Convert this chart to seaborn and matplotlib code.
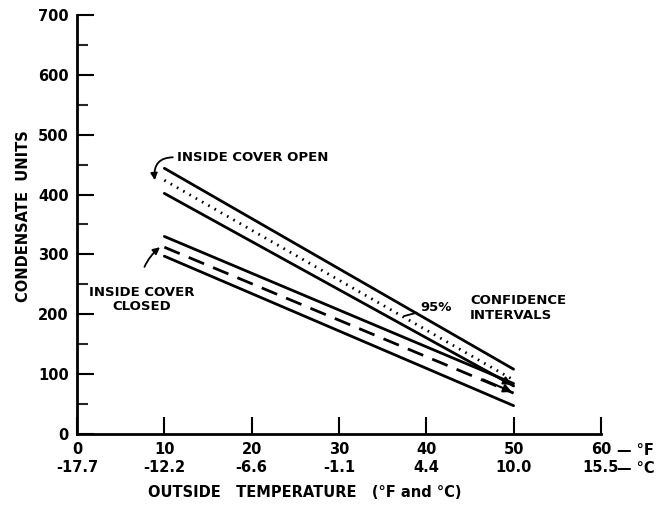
import matplotlib
matplotlib.use("Agg")
import matplotlib.pyplot as plt
import seaborn as sns

# outside temperature (deg F) at the two ends of each fitted line
temp_f = [10, 50]

# inside cover open: upper 95% limit, fit, lower 95% limit
open_upper = [444, 108]
open_fit = [424, 90]
open_lower = [402, 80]

# inside cover closed
closed_upper = [330, 84]
closed_fit = [312, 68]
closed_lower = [297, 47]

f_ticks = [0, 10, 20, 30, 40, 50, 60]
c_labels = ["-17.7", "-12.2", "-6.6", "-1.1", "4.4", "10.0", "15.5"]

sns.set_style("ticks")
plt.rcParams['font.family'] = ['DejaVu Sans']
plt.rcParams['font.weight'] = 'bold'
plt.rcParams['text.color'] = 'black'
plt.rcParams['axes.labelcolor'] = 'black'

fig = plt.figure(figsize=(6.64, 5.05), dpi=100)
ax = fig.add_axes([0.116, 0.141, 0.789, 0.829])

lw = 2.0
sns.lineplot(x=temp_f, y=open_upper, color="black", linewidth=lw, ax=ax)
sns.lineplot(x=temp_f, y=open_fit, color="black", linewidth=lw, ax=ax,
             linestyle=(0, (0.6, 2.0)))
sns.lineplot(x=temp_f, y=open_lower, color="black", linewidth=lw, ax=ax)
sns.lineplot(x=temp_f, y=closed_upper, color="black", linewidth=lw, ax=ax)
sns.lineplot(x=temp_f, y=closed_fit, color="black", linewidth=lw, ax=ax,
             linestyle=(0, (6, 3.5)))
sns.lineplot(x=temp_f, y=closed_lower, color="black", linewidth=lw, ax=ax)

ax.set_xlim(0, 60)
ax.set_ylim(0, 700)
sns.despine(ax=ax)
for s in ["left", "bottom"]:
    ax.spines[s].set_linewidth(2.0)
    ax.spines[s].set_color("black")

ax.set_yticks(range(0, 701, 100))
ax.set_yticks(range(50, 701, 100), minor=True)
ax.set_xticks(f_ticks)
ax.set_xticklabels([f"{f}\n{c}" for f, c in zip(f_ticks, c_labels)])
ax.tick_params(axis="both", direction="in", length=12, width=1.5,
               colors="black", labelsize=10.5, pad=6)
ax.tick_params(axis="y", which="minor", direction="in", length=8, width=1.5)
ax.tick_params(axis="x", pad=6)

ax.text(61.8, -0.023, "— °F\n— °C", transform=ax.get_xaxis_transform(),
        ha="left", va="top", fontsize=10.5, fontweight="bold",
        linespacing=1.2, clip_on=False)

ax.set_ylabel("CONDENSATE  UNITS", fontsize=10.5, fontweight="bold")
ax.yaxis.set_label_coords(-0.088, 0.52)
ax.set_xlabel("OUTSIDE   TEMPERATURE   (°F and °C)", fontsize=10.5,
              fontweight="bold")
ax.xaxis.set_label_coords(0.435, -0.122)

# annotations
ax.annotate("INSIDE COVER OPEN", xy=(8.9, 424), xytext=(11.5, 462),
            fontsize=9.5, fontweight="bold", va="center", ha="left",
            arrowprops=dict(arrowstyle="-|>", color="black", lw=1.3,
                            connectionstyle="arc3,rad=0.6",
                            relpos=(0, 0.5),
                            shrinkA=1, shrinkB=0, mutation_scale=10))
ax.annotate("INSIDE COVER\nCLOSED", xy=(9.5, 312), xytext=(7.4, 224),
            fontsize=9.5, fontweight="bold", va="center", ha="center",
            linespacing=1.1,
            arrowprops=dict(arrowstyle="-|>", color="black", lw=1.3,
                            connectionstyle="arc3,rad=-0.3",
                            shrinkA=12, shrinkB=0, mutation_scale=10))
ax.annotate("95%", xy=(37.5, 197), xytext=(39.3, 211),
            fontsize=9.5, fontweight="bold", va="center", ha="left",
            arrowprops=dict(arrowstyle="-", color="black", lw=1.3,
                            shrinkA=0, shrinkB=0))
ax.text(45.0, 211, "CONFIDENCE\nINTERVALS", fontsize=9.5, fontweight="bold",
        va="center", ha="left", linespacing=1.2)

# arrow heads at the right end of the bands
ax.annotate("", xy=(49.8, 82), xytext=(45.0, 120),
            arrowprops=dict(arrowstyle="-|>", color="black", lw=1.5,
                            mutation_scale=12, shrinkA=0, shrinkB=0))
ax.annotate("", xy=(49.8, 70), xytext=(46.5, 91),
            arrowprops=dict(arrowstyle="-|>", color="black", lw=1.5,
                            mutation_scale=12, shrinkA=0, shrinkB=0))

fig.savefig("out.png", dpi=100, facecolor="white")
